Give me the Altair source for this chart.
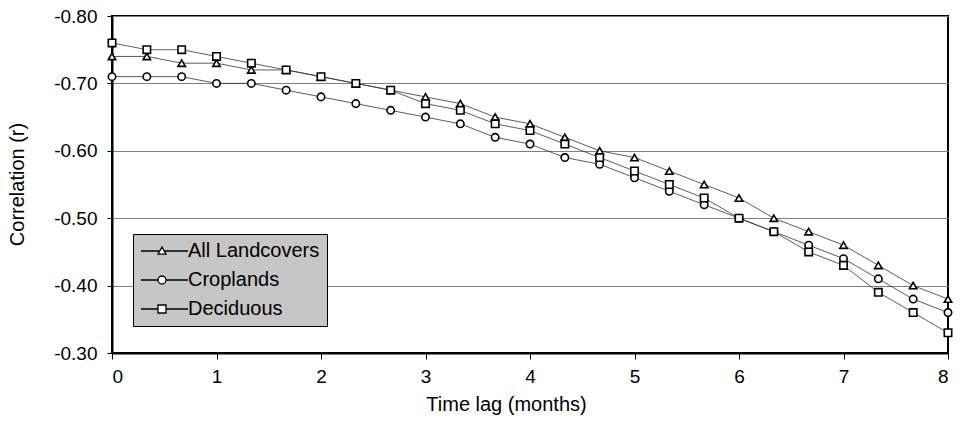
import altair as alt
import pandas as pd

# ---- data ----
lag_months = [0, 1/3, 2/3, 1, 4/3, 5/3, 2, 7/3, 8/3, 3, 10/3, 11/3, 4,
              13/3, 14/3, 5, 16/3, 17/3, 6, 19/3, 20/3, 7, 22/3, 23/3, 8]
all_landcovers = [-0.74, -0.74, -0.73, -0.73, -0.72, -0.72, -0.71, -0.70, -0.69, -0.68,
                  -0.67, -0.65, -0.64, -0.62, -0.60, -0.59, -0.57, -0.55, -0.53, -0.50,
                  -0.48, -0.46, -0.43, -0.40, -0.38]
croplands = [-0.71, -0.71, -0.71, -0.70, -0.70, -0.69, -0.68, -0.67, -0.66, -0.65,
             -0.64, -0.62, -0.61, -0.59, -0.58, -0.56, -0.54, -0.52, -0.50, -0.48,
             -0.46, -0.44, -0.41, -0.38, -0.36]
deciduous = [-0.76, -0.75, -0.75, -0.74, -0.73, -0.72, -0.71, -0.70, -0.69, -0.67,
             -0.66, -0.64, -0.63, -0.61, -0.59, -0.57, -0.55, -0.53, -0.50, -0.48,
             -0.45, -0.43, -0.39, -0.36, -0.33]
series_names = ["All Landcovers", "Croplands", "Deciduous"]
x_ticks = [0, 1, 2, 3, 4, 5, 6, 7, 8]
y_ticks = [-0.80, -0.70, -0.60, -0.50, -0.40, -0.30]

rows = []
for name, vals in zip(series_names, [all_landcovers, croplands, deciduous]):
    for lg, v in zip(lag_months, vals):
        rows.append({"lag": lg, "r": v, "series": name})
df = pd.DataFrame(rows)

FONT = "Liberation Sans"

# legend symbols: a line sample with the marker on it (path units, scaled by sqrt(size)/2)
legend_paths = [
    "M-2.25,0H2.44M3.56,0H9.5M3,-1L4,0.8L2,0.8Z",
    "M-2.25,0H2M4,0H9.5M4,0A1,1,0,1,1,2,0A1,1,0,1,1,4,0Z",
    "M-2.25,0H2M4,0H9.5M2,-1H4V1H2Z",
]

x_enc = alt.X(
    "lag:Q",
    scale=alt.Scale(domain=[0, 8], nice=False, zero=False),
    axis=alt.Axis(
        values=x_ticks, format="d", title="Time lag (months)", grid=False,
        domainColor="black", domainWidth=2, tickColor="black", tickSize=6, tickWidth=1,
        labelFont=FONT, labelFontSize=19, labelColor="black", labelPadding=8,
        titleFont=FONT, titleFontSize=20, titleFontWeight="normal", titleColor="black",
        titleX=394, titleY=57, titleAlign="center", titleBaseline="alphabetic",
    ),
)
y_enc = alt.Y(
    "r:Q",
    scale=alt.Scale(domain=[-0.8, -0.3], reverse=True, nice=False, zero=False),
    axis=alt.Axis(
        values=y_ticks, title="Correlation (r)",
        labelExpr="datum.value < 0 ? '-' + format(-datum.value, '.2f') : format(datum.value, '.2f')",
        grid=True, gridColor="#808080", gridWidth=1,
        domainColor="black", domainWidth=2, tickColor="black", tickSize=5, tickWidth=1,
        labelFont=FONT, labelFontSize=19, labelColor="black", labelPadding=10,
        titleFont=FONT, titleFontSize=20, titleFontWeight="normal", titleColor="black",
        titleAngle=270, titleAlign="center", titleBaseline="middle", titleX=-95, titleY=168,
    ),
)

base = alt.Chart(df)

lines = base.mark_line(color="#333333", strokeWidth=0.8).encode(
    x=x_enc, y=y_enc, detail="series:N"
)

points = base.mark_point(
    filled=True, fill="white", stroke="black", strokeWidth=1.6, size=55, opacity=1
).encode(
    x=x_enc, y=y_enc,
    shape=alt.Shape("series:N",
                    scale=alt.Scale(domain=series_names, range=["triangle-up", "circle", "square"]),
                    legend=None),
)

legend_layer = base.transform_filter("false").mark_point(
    filled=True, fill="white", stroke="black", strokeWidth=1.3, size=64, opacity=1
).encode(
    x=x_enc, y=y_enc,
    shape=alt.Shape("series:N",
                    scale=alt.Scale(domain=series_names, range=legend_paths),
                    legend=alt.Legend(
                        title=None, orient="none", legendX=21, legendY=218,
                        fillColor="#c6c6c6", strokeColor="black", padding=7,
                        labelFont=FONT, labelFontSize=20, labelColor="black",
                        labelOffset=28, rowPadding=9, symbolSize=64,
                        symbolStrokeWidth=1.3, symbolOpacity=1,
                    )),
)

chart = (
    alt.layer(lines, points, legend_layer)
    .resolve_scale(shape="independent")
    .properties(
        width=836, height=337,
        autosize=alt.AutoSizeParams(type="none"),
        padding={"left": 104, "top": 8, "right": 6, "bottom": 62},
        background="white",
    )
    .configure_view(stroke="black", strokeWidth=2)
)

chart.save("out.html", embed_options={"renderer": "svg", "actions": False})
